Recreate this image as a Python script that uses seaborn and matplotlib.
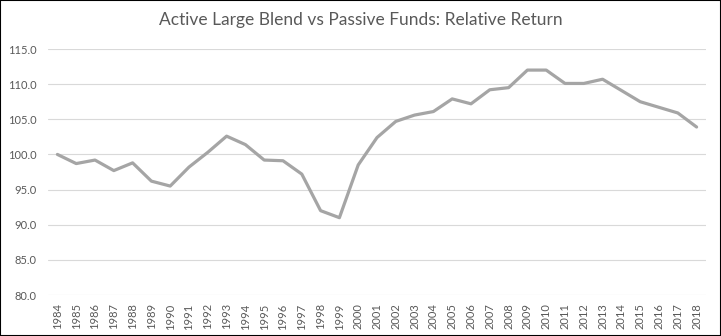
import matplotlib
matplotlib.use("Agg")
import matplotlib.pyplot as plt
from matplotlib.patches import Rectangle
from matplotlib.ticker import FormatStrFormatter
import pandas as pd
import seaborn as sns

years = [str(y) for y in range(1984, 2019)]
relative_return = [
    100.0, 98.7, 99.2, 97.7, 98.8, 96.2, 95.5, 98.2, 100.3, 102.6,
    101.4, 99.2, 99.1, 97.2, 92.0, 91.0, 98.5, 102.4, 104.7, 105.6,
    106.1, 107.9, 107.2, 109.2, 109.5, 112.0, 112.0, 110.1, 110.1, 110.7,
    109.1, 107.5, 106.7, 105.9, 103.9,
]
y_ticks = [80, 85, 90, 95, 100, 105, 110, 115]
title = "Active Large Blend vs Passive Funds: Relative Return"

df = pd.DataFrame({"year": years, "value": relative_return})

sns.set_style("white")
plt.rcParams["font.family"] = ["Lato", "DejaVu Sans"]

text_color = "#595959"
fig = plt.figure(figsize=(7.21, 3.36), dpi=100)
ax = fig.add_axes([48 / 721, 1 - 295 / 336, (706 - 48) / 721, (295 - 49) / 336])

sns.lineplot(data=df, x="year", y="value", ax=ax, color="#A5A5A5",
             linewidth=2.3, sort=False)

ax.set_xlim(-0.5, len(years) - 0.5)
ax.set_ylim(80, 115)
ax.set_yticks(y_ticks)
ax.yaxis.set_major_formatter(FormatStrFormatter("%.1f"))
ax.grid(axis="y", color="#D9D9D9", linewidth=0.8)
ax.set_axisbelow(True)
for s in ax.spines.values():
    s.set_visible(False)
ax.set_xlabel("")
ax.set_ylabel("")
ax.tick_params(axis="both", length=0, colors=text_color, labelsize=8)
ax.tick_params(axis="y", pad=8)
ax.tick_params(axis="x", pad=6)
plt.setp(ax.get_xticklabels(), rotation=90)

fig.text(0.5, 1 - 20 / 336, title, ha="center", va="center",
         fontsize=12.5, color=text_color)

fig.patches.append(Rectangle((0, 0), 1, 1, transform=fig.transFigure,
                             fill=False, edgecolor="black", linewidth=1.5))

fig.savefig("out.png", dpi=100)
